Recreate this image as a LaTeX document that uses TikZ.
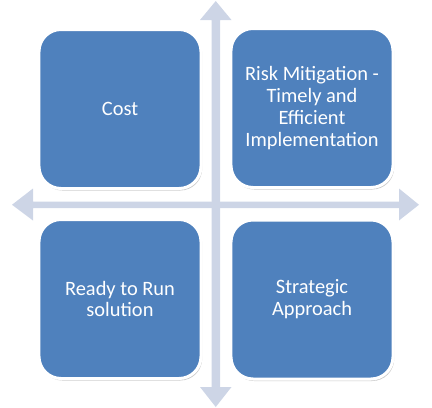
\documentclass[tikz,border=0pt]{standalone}
\usepackage{fontspec}
\setmainfont{Carlito}
\usetikzlibrary{shadows}
\definecolor{boxblue}{HTML}{4F81BD}
\definecolor{arrowgray}{HTML}{CDD5E6}
\tikzset{
  quadbox/.style={rectangle, rounded corners=22bp, fill=boxblue, draw=white, line width=3bp,
    minimum width=162bp, minimum height=159bp, align=center,
    text=white, font=\fontsize{20.5}{22}\selectfont,
    drop shadow={shadow xshift=1.2bp, shadow yshift=-2bp, opacity=0.35, fill=black!60}},
  axisarrow/.style={fill=arrowgray, draw=none}
}
\begin{document}
\begin{tikzpicture}[x=1bp,y=-1bp]
\useasboundingbox (0,0) rectangle (432,408);
% vertical double arrow
\fill[axisarrow] (215.75,1) -- (231.5,20) -- (220,20) -- (220,387) -- (231.5,387)
  -- (215.75,407) -- (200,387) -- (211.5,387) -- (211.5,20) -- (200,20) -- cycle;
% horizontal double arrow
\fill[axisarrow] (12,204.75) -- (33,188.5) -- (33,201.5) -- (399,201.5) -- (399,188.5)
  -- (419,204.75) -- (399,220.5) -- (399,208) -- (33,208) -- (33,220.5) -- cycle;
\node[quadbox] (cost) at (120,109) {Cost};
\node[quadbox] (risk) at (312,108) {Risk Mitigation -\\Timely and\\Efficient\\Implementation};
\node[quadbox] (ready) at (120,299) {Ready to Run\\solution};
\node[quadbox] (strat) at (312,299.5) {Strategic\\Approach};
\end{tikzpicture}
\end{document}
